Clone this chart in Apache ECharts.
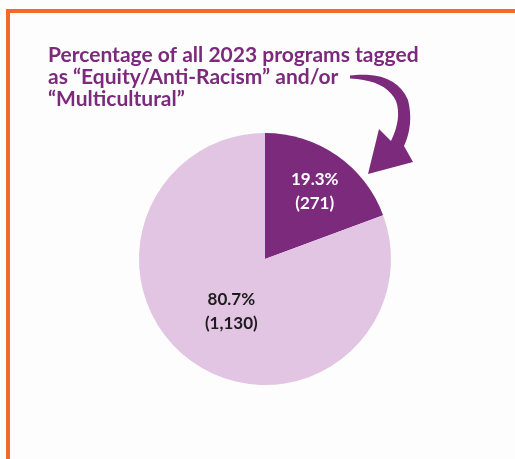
<!DOCTYPE html>
<html>
<head>
<meta charset="utf-8">
<script src="https://cdn.jsdelivr.net/npm/echarts@6/dist/echarts.min.js"></script>
<style>
  html, body { margin: 0; padding: 0; background: #fdfdfd; }
  #dom { width: 515px; height: 459px; }
</style>
</head>
<body>
<div id="dom"></div>
<script>
// data
var categories = ['Equity/Anti-Racism and/or Multicultural', 'Other programs'];
var programCounts = [271, 1130];
var percentLabels = ['19.3%', '80.7%'];
var sliceColors = ['#7b2a7c', '#e2c5e2'];
var labelColors = ['#ffffff', '#1c1c1c'];

var titleText = 'Percentage of all 2023 programs tagged\nas \u201cEquity/Anti-Racism\u201d and/or\n\u201cMulticultural\u201d';

var myChart = echarts.init(document.getElementById('dom'));

// arrow outline: quadratic segments sampled into a polygon
function quad(p0, c, p1, n) {
  var pts = [];
  for (var k = 1; k <= n; k++) {
    var t = k / n, u = 1 - t;
    pts.push([u * u * p0[0] + 2 * u * t * c[0] + t * t * p1[0],
              u * u * p0[1] + 2 * u * t * c[1] + t * t * p1[1]]);
  }
  return pts;
}
var arrowPts = [[350, 75.5]]
  .concat(quad([350, 75.5], [395, 70], [408, 100], 10))
  .concat(quad([408, 100], [414, 124], [404, 146], 8))
  .concat([[413, 162], [368, 174], [379, 129], [391, 141]])
  .concat(quad([391, 141], [402, 118], [396, 101], 8))
  .concat(quad([396, 101], [386, 80], [350, 78.5], 10));

var seriesData = [];
for (var i = 0; i < categories.length; i++) {
  seriesData.push({
    name: categories[i],
    value: programCounts[i],
    itemStyle: { color: sliceColors[i] },
    label: { color: labelColors[i] }
  });
}

var option = {
  backgroundColor: '#fdfdfd',
  animation: false,
  title: {
    text: titleText,
    left: 43,
    top: 39,
    textStyle: {
      fontFamily: 'Lato',
      fontSize: 21,
      fontWeight: 'bold',
      lineHeight: 22,
      color: '#7b2a7c'
    }
  },
  graphic: [
    // orange frame
    { type: 'rect', shape: { x: 6, y: 9, width: 509, height: 4 }, style: { fill: '#f26a27' } },
    { type: 'rect', shape: { x: 6, y: 9, width: 4, height: 450 }, style: { fill: '#f26a27' } },
    // curved arrow from the title to the slice
    { type: 'polygon', shape: { points: arrowPts }, style: { fill: '#7b2a7c' } }
  ],
  series: [{
    type: 'pie',
    center: [265, 259],
    radius: 126,
    startAngle: 90,
    clockwise: true,
    silent: true,
    label: {
      show: true,
      position: 'inside',
      fontFamily: 'Lato',
      fontSize: 17,
      fontWeight: 'bold',
      lineHeight: 24,
      align: 'left',
      formatter: function (p) {
        return percentLabels[p.dataIndex] + '\n(' + programCounts[p.dataIndex].toLocaleString('en-US') + ')';
      }
    },
    labelLine: { show: false },
    labelLayout: function (p) {
      if (p.dataIndex === 0) {
        return { dx: 12, dy: -13 };
      }
      return { dx: 4, dy: -2 };
    },
    data: seriesData
  }]
};
myChart.setOption(option);
</script>
</body>
</html>
